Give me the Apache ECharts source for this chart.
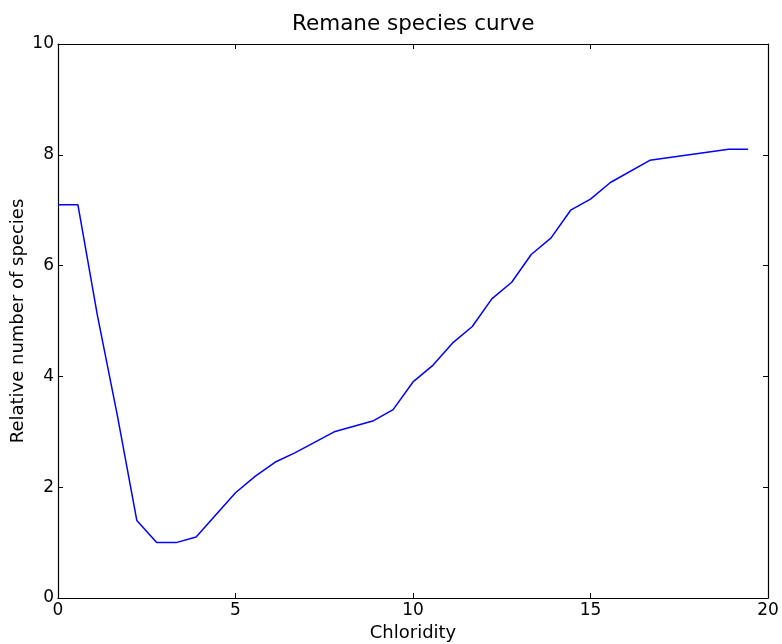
<!DOCTYPE html>
<html>
<head>
<meta charset="utf-8">
<script src="https://cdn.jsdelivr.net/npm/echarts@6/dist/echarts.min.js"></script>
<style>
  html, body { margin: 0; padding: 0; background: #fff; }
  #main { width: 782px; height: 644px; }
</style>
</head>
<body>
<div id="main"></div>
<script>
// values
var chloridity = [0, 0.56, 1.11, 1.67, 2.22, 2.78, 3.33, 3.89, 5.0, 5.56, 6.11, 6.67, 7.78, 8.89,
  9.44, 10.0, 10.56, 11.11, 11.67, 12.22, 12.78, 13.33, 13.89, 14.44, 15.0, 15.56, 16.67, 18.89, 19.44];
var species = [7.1, 7.1, 5.1, 3.3, 1.4, 1.0, 1.0, 1.1, 1.9, 2.2, 2.45, 2.62, 3.0, 3.2,
  3.4, 3.9, 4.2, 4.6, 4.9, 5.4, 5.7, 6.2, 6.5, 7.0, 7.2, 7.5, 7.9, 8.1, 8.1];

var font = 'DejaVu Sans';
var points = chloridity.map(function (x, i) { return [x, species[i]]; });

var chart = echarts.init(document.getElementById('main'));

//刻度朝内，四边都有
function tick() {
  return { show: true, inside: true, length: 5, lineStyle: { color: '#000', width: 1 } };
}
function line() {
  return { onZero: false, lineStyle: { color: '#000', width: 1.2 } };
}

chart.setOption({
  animation: false,
  title: {
    text: 'Remane species curve',
    left: 287, top: 8,
    textStyle: { fontFamily: font, fontSize: 21.5, fontWeight: 'normal', color: '#000' }
  },
  grid: { left: 58, right: 14, top: 44, bottom: 46, outerBoundsMode: 'none' },
  xAxis: [{
    type: 'value', min: 0, max: 20, interval: 5, position: 'bottom',
    name: 'Chloridity', nameLocation: 'middle', nameGap: 26,
    nameTextStyle: { fontFamily: font, fontSize: 18, color: '#000' },
    axisLine: line(),
    axisTick: tick(),
    axisLabel: { fontFamily: font, fontSize: 17, color: '#000', margin: 4 },
    splitLine: { show: false }
  }, {
    type: 'value', min: 0, max: 20, interval: 5, position: 'top',
    axisLine: line(),
    axisTick: tick(), axisLabel: { show: false }, splitLine: { show: false }
  }],
  yAxis: [{
    type: 'value', min: 0, max: 10, interval: 2, position: 'left',
    name: 'Relative number of species', nameLocation: 'middle', nameGap: 31,
    nameMoveOverlap: false,
    nameTextStyle: { fontFamily: font, fontSize: 18, color: '#000' },
    axisLine: line(),
    axisTick: tick(),
    axisLabel: { fontFamily: font, fontSize: 17, color: '#000', margin: 4 },
    splitLine: { show: false }
  }, {
    type: 'value', min: 0, max: 10, interval: 2, position: 'right',
    axisLine: line(),
    axisTick: tick(), axisLabel: { show: false }, splitLine: { show: false }
  }],
  series: [{
    type: 'line',
    data: points,
    showSymbol: false,
    lineStyle: { color: '#0000ff', width: 1.5 },
    itemStyle: { color: '#0000ff' }
  }]
});
</script>
</body>
</html>
